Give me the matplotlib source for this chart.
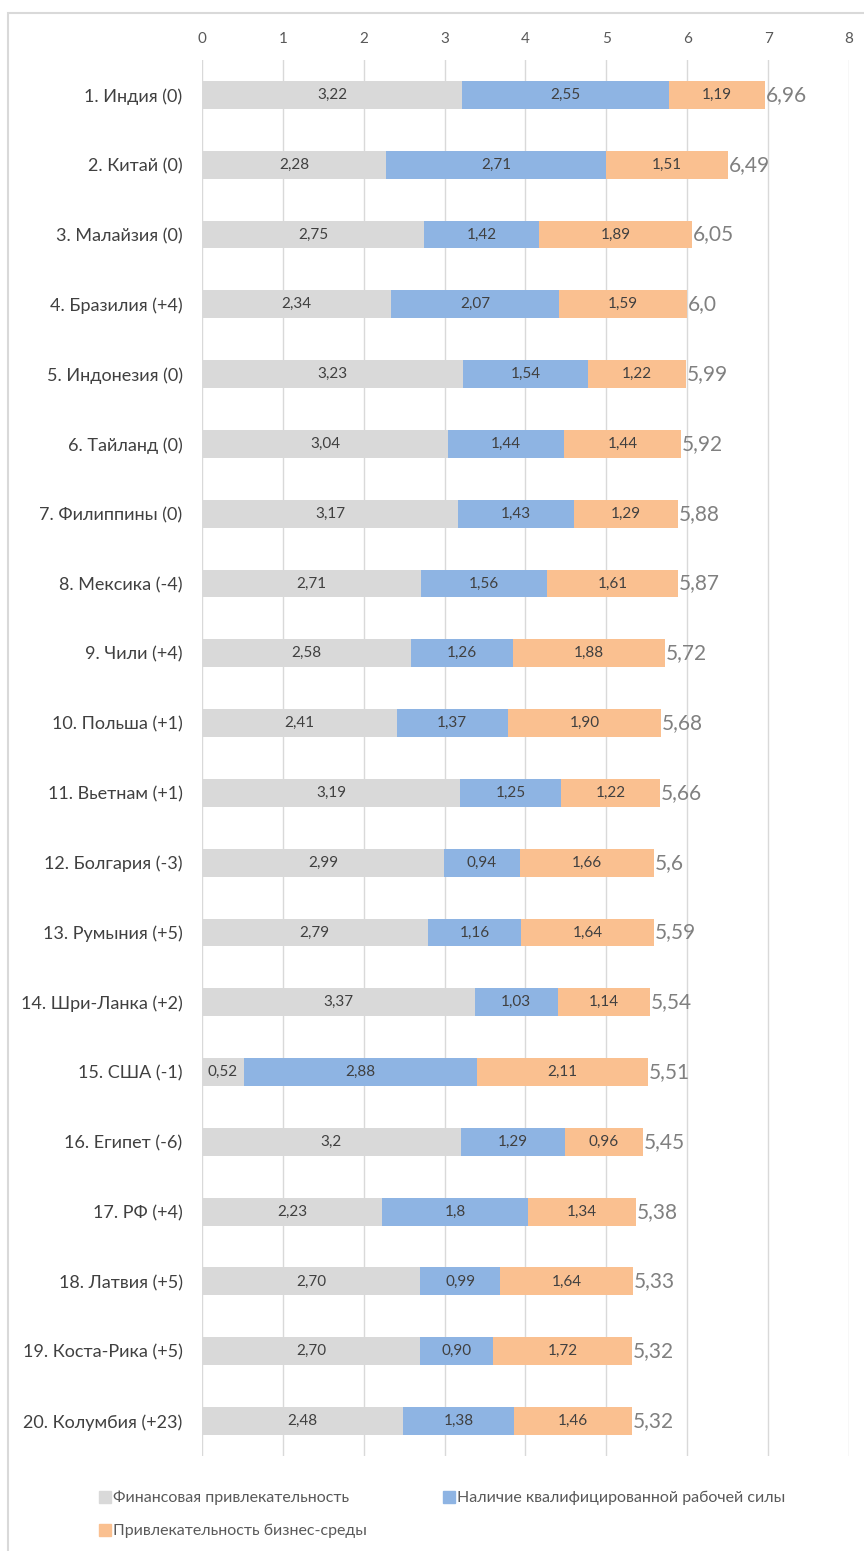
import matplotlib.pyplot as plt
from matplotlib.patches import Rectangle
from matplotlib.lines import Line2D

plt.rcParams["font.family"] = ["Lato", "DejaVu Sans"]

# Country rankings with the three index components (values as printed)
countries = [
    "1. Индия (0)", "2. Китай (0)", "3. Малайзия (0)", "4. Бразилия (+4)",
    "5. Индонезия (0)", "6. Тайланд (0)", "7. Филиппины (0)", "8. Мексика (-4)",
    "9. Чили (+4)", "10. Польша (+1)", "11. Вьетнам (+1)", "12. Болгария (-3)",
    "13. Румыния (+5)", "14. Шри-Ланка (+2)", "15. США (-1)", "16. Египет (-6)",
    "17. РФ (+4)", "18. Латвия (+5)", "19. Коста-Рика (+5)", "20. Колумбия (+23)",
]
financial = ["3,22", "2,28", "2,75", "2,34", "3,23", "3,04", "3,17", "2,71", "2,58", "2,41",
             "3,19", "2,99", "2,79", "3,37", "0,52", "3,2", "2,23", "2,70", "2,70", "2,48"]
workforce = ["2,55", "2,71", "1,42", "2,07", "1,54", "1,44", "1,43", "1,56", "1,26", "1,37",
             "1,25", "0,94", "1,16", "1,03", "2,88", "1,29", "1,8", "0,99", "0,90", "1,38"]
business = ["1,19", "1,51", "1,89", "1,59", "1,22", "1,44", "1,29", "1,61", "1,88", "1,90",
            "1,22", "1,66", "1,64", "1,14", "2,11", "0,96", "1,34", "1,64", "1,72", "1,46"]
totals = ["6,96", "6,49", "6,05", "6,0", "5,99", "5,92", "5,88", "5,87", "5,72", "5,68",
          "5,66", "5,6", "5,59", "5,54", "5,51", "5,45", "5,38", "5,33", "5,32", "5,32"]

series_names = ["Финансовая привлекательность",
                "Наличие квалифицированной рабочей силы",
                "Привлекательность бизнес-среды"]
colors = ["#d9d9d9", "#8eb4e3", "#fac090"]


def num(s):
    return float(s.replace(",", "."))


fig = plt.figure(figsize=(8.64, 15.51), dpi=100)
ax = fig.add_axes([0.2338, 0.0613, 0.9826 - 0.2338, 0.9613 - 0.0613])

# outer chart frame
fig.patches.append(Rectangle((8 / 864, -0.01), 1.0, 1 - 13 / 1551 + 0.01,
                             transform=fig.transFigure, fill=False,
                             edgecolor="#d9d9d9", linewidth=1.5, zorder=0))

y = list(range(len(countries)))
left = [0.0] * len(countries)
for vals, color in zip([financial, workforce, business], colors):
    widths = [num(v) for v in vals]
    ax.barh(y, widths, left=left, height=0.4, color=color, zorder=2)
    for yi, l, w, txt in zip(y, left, widths, vals):
        ax.text(l + w / 2, yi, txt, ha="center", va="center",
                fontsize=11, color="#404040", zorder=3)
    left = [l + w for l, w in zip(left, widths)]

for yi, end, txt in zip(y, left, totals):
    ax.text(end + 0.01, yi, txt, ha="left", va="center",
            fontsize=15, color="#808080", zorder=3)

ax.set_xlim(0, 8)
ax.set_ylim(19.5, -0.5)
ax.set_xticks(range(9))
ax.xaxis.tick_top()
ax.tick_params(axis="x", length=0, labelsize=11, labelcolor="#595959", pad=10)
ax.set_yticks(y)
ax.set_yticklabels(countries)
ax.tick_params(axis="y", length=0, labelsize=13, labelcolor="#404040", pad=14)
ax.grid(axis="x", color="#d9d9d9", linewidth=1, zorder=0)
ax.set_axisbelow(True)
for spine in ax.spines.values():
    spine.set_visible(False)

# legend filled row by row: two entries on the first line, one below
order = [0, 2, 1]
handles = [Line2D([], [], marker="s", linestyle="none", markersize=8,
                  markerfacecolor=colors[i], markeredgecolor=colors[i]) for i in order]
fig.legend(handles, [series_names[i] for i in order], loc="upper left",
           bbox_to_anchor=(0.098, 0.048), ncol=2, frameon=False, fontsize=11.5,
           labelcolor="#595959", handletextpad=0.1, columnspacing=4.7,
           labelspacing=1.15, handlelength=0.8)

fig.savefig("out.png", dpi=100)
